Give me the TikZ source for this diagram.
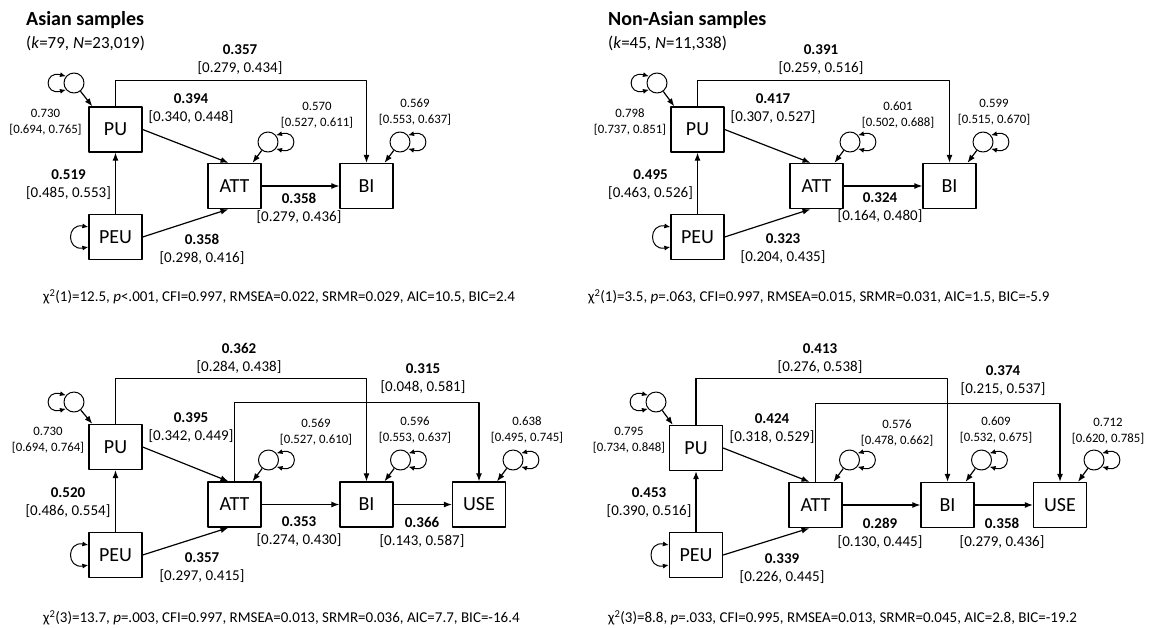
\documentclass[tikz,border=0pt]{standalone}
\usepackage{fontspec}
\setmainfont{Carlito}
\usetikzlibrary{arrows.meta,calc}

\tikzset{
	var/.style={draw, line width=1.3pt, minimum width=53pt, minimum height=45pt, inner sep=0pt, font=\fontsize{20}{22}\selectfont},
	err/.style={draw, circle, line width=1pt, minimum size=20pt, inner sep=0pt},
	arr/.style={line width=1.2pt, -{Latex[length=8pt,width=6pt]}},
	dbl/.style={line width=1pt, {Latex[length=6pt,width=5pt]}-{Latex[length=6pt,width=5pt]}},
	est/.style={align=center, inner sep=0pt, font=\fontsize{15}{18}\selectfont},
	var est/.style={align=center, inner sep=0pt, font=\fontsize{12.8}{16}\selectfont},
	head/.style={anchor=west, inner sep=0pt, font=\fontsize{20}{24}\selectfont\bfseries},
	subhead/.style={anchor=west, inner sep=0pt, font=\fontsize{17}{20}\selectfont},
	fitline/.style={anchor=west, inner sep=0pt, font=\fontsize{15}{18}\selectfont}
}
\newcommand{\coef}[2]{\textbf{#1}\\\relax[#2]}
\newcommand{\vari}[2]{#1\\\relax[#2]}

\begin{document}
\begin{tikzpicture}[x=1pt, y=-1pt, line join=round, >=Latex]
	\useasboundingbox (0,0) rectangle (1153,627);
	
	% Asian samples, three-variable model
	\node[head] (aHead) at (26,20) {Asian samples};
	\node[subhead] (aSub) at (26,43) {(\textit{k}=79, \textit{N}=23,019)};
	\node[var] (aPU) at (115.5,129.5) {PU};
	\node[var] (aPEU) at (115.5,237) {PEU};
	\node[var] (aATT) at (234.5,186) {ATT};
	\node[var] (aBI) at (366.5,186) {BI};
	\draw[arr] (aPEU) -- (aPU);
	\draw[arr] (aPU.east) -- ($(aATT.north)+(-6,0)$);
	\draw[arr] (aPEU.east) -- ($(aATT.south)+(-6,0)$);
	\draw[arr] (aATT) -- (aBI);
	\draw[arr] (aPU.north) -- ++(0,-26) -| (aBI.north);
	\node[err] (aPU-e) at (74,83) {};
	\draw[dbl] (aPU-e.140) .. controls +(-22,-6) and +(-22,6) .. (aPU-e.220);
	\draw[arr] (aPU-e) -- ($(aPU.north west)+(4,0)$);
	\draw[dbl] ($(aPEU.west)+(0,-10)$) .. controls +(-22,-4) and +(-22,4) .. ($(aPEU.west)+(0,10)$);
	\foreach \v in {aATT,aBI}{
		\node[err] (\v-e) at ($(\v)+(33.5,-44)$) {};
		\draw[dbl] (\v-e.40) .. controls +(22,-6) and +(22,6) .. (\v-e.-40);
		\draw[arr] (\v-e) -- ($(\v.north)+(18,0)$);
	}
	\node[var est] (aPU-v) at (45.5,122) {\vari{0.730}{0.694, 0.765}};
	\node[var est] (aATT-v) at (317,115) {\vari{0.570}{0.527, 0.611}};
	\node[var est] (aBI-v) at (415,112.5) {\vari{0.569}{0.553, 0.637}};
	\node[est] (aPU-BI) at (240,60) {\coef{0.357}{0.279, 0.434}};
	\node[est] (aPU-ATT) at (191,109) {\coef{0.394}{0.340, 0.448}};
	\node[est] (aPEU-PU) at (68.5,184.5) {\coef{0.519}{0.485, 0.553}};
	\node[est] (aATT-BI) at (299,208) {\coef{0.358}{0.279, 0.436}};
	\node[est] (aPEU-ATT) at (202,249) {\coef{0.358}{0.298, 0.416}};
	\node[fitline] (aFit) at (43,297) {χ\textsuperscript{2}(1)=12.5, \textit{p}<.001, CFI=0.997, RMSEA=0.022, SRMR=0.029, AIC=10.5, BIC=2.4};
	
	% Non-Asian samples, three-variable model
	\node[head] (bHead) at (608,20) {Non-Asian samples};
	\node[subhead] (bSub) at (608,43) {(\textit{k}=45, \textit{N}=11,338)};
	\node[var] (bPU) at (697.5,129.5) {PU};
	\node[var] (bPEU) at (697.5,237) {PEU};
	\node[var] (bATT) at (816.5,186) {ATT};
	\node[var] (bBI) at (949.5,186) {BI};
	\draw[arr] (bPEU) -- (bPU);
	\draw[arr] (bPU.east) -- ($(bATT.north)+(-6,0)$);
	\draw[arr] (bPEU.east) -- ($(bATT.south)+(-6,0)$);
	\draw[arr] (bATT) -- (bBI);
	\draw[arr] (bPU.north) -- ++(0,-26) -| (bBI.north);
	\node[err] (bPU-e) at (657,83) {};
	\draw[dbl] (bPU-e.140) .. controls +(-22,-6) and +(-22,6) .. (bPU-e.220);
	\draw[arr] (bPU-e) -- ($(bPU.north west)+(4,0)$);
	\draw[dbl] ($(bPEU.west)+(0,-10)$) .. controls +(-22,-4) and +(-22,4) .. ($(bPEU.west)+(0,10)$);
	\foreach \v in {bATT,bBI}{
		\node[err] (\v-e) at ($(\v)+(33.5,-44)$) {};
		\draw[dbl] (\v-e.40) .. controls +(22,-6) and +(22,6) .. (\v-e.-40);
		\draw[arr] (\v-e) -- ($(\v.north)+(18,0)$);
	}
	\node[var est] (bPU-v) at (630,122) {\vari{0.798}{0.737, 0.851}};
	\node[var est] (bATT-v) at (898,115) {\vari{0.601}{0.502, 0.688}};
	\node[var est] (bBI-v) at (994,112.5) {\vari{0.599}{0.515, 0.670}};
	\node[est] (bPU-BI) at (821,60) {\coef{0.391}{0.259, 0.516}};
	\node[est] (bPU-ATT) at (773,109) {\coef{0.417}{0.307, 0.527}};
	\node[est] (bPEU-PU) at (650.5,184.5) {\coef{0.495}{0.463, 0.526}};
	\node[est] (bATT-BI) at (880,208) {\coef{0.324}{0.164, 0.480}};
	\node[est] (bPEU-ATT) at (783,249) {\coef{0.323}{0.204, 0.435}};
	\node[fitline] (bFit) at (588,297) {χ\textsuperscript{2}(1)=3.5, \textit{p}=.063, CFI=0.997, RMSEA=0.015, SRMR=0.031, AIC=1.5, BIC=-5.9};
	
	% Asian samples, model with USE
	\node[var] (cPU) at (115.5,447) {PU};
	\node[var] (cPEU) at (115.5,555) {PEU};
	\node[var] (cATT) at (234.5,504.5) {ATT};
	\node[var] (cBI) at (366.5,504.5) {BI};
	\node[var] (cUSE) at (479,504.5) {USE};
	\draw[arr] (cPEU) -- (cPU);
	\draw[arr] (cPU.east) -- ($(cATT.north)+(-6,0)$);
	\draw[arr] (cPEU.east) -- ($(cATT.south)+(-6,0)$);
	\draw[arr] (cATT) -- (cBI);
	\draw[arr] (cBI) -- (cUSE);
	\draw[arr] (cPU.north) -- ++(0,-45) -| (cBI.north);
	\draw[arr] (cATT.north) -- ++(0,-79) -| (cUSE.north);
	\node[err] (cPU-e) at (74,402) {};
	\draw[dbl] (cPU-e.140) .. controls +(-22,-6) and +(-22,6) .. (cPU-e.220);
	\draw[arr] (cPU-e) -- ($(cPU.north west)+(4,0)$);
	\draw[dbl] ($(cPEU.west)+(0,-10)$) .. controls +(-22,-4) and +(-22,4) .. ($(cPEU.west)+(0,10)$);
	\foreach \v in {cATT,cBI,cUSE}{
		\node[err] (\v-e) at ($(\v)+(34,-44.5)$) {};
		\draw[dbl] (\v-e.40) .. controls +(22,-6) and +(22,6) .. (\v-e.-40);
		\draw[arr] (\v-e) -- ($(\v.north)+(18,0)$);
	}
	\node[var est] (cPU-v) at (48,440) {\vari{0.730}{0.694, 0.764}};
	\node[var est] (cATT-v) at (316,432.5) {\vari{0.569}{0.527, 0.610}};
	\node[var est] (cBI-v) at (415,430) {\vari{0.596}{0.553, 0.637}};
	\node[var est] (cUSE-v) at (527,430) {\vari{0.638}{0.495, 0.745}};
	\node[est] (cPU-BI) at (239,358.5) {\coef{0.362}{0.284, 0.438}};
	\node[est] (cATT-USE) at (423,379) {\coef{0.315}{0.048, 0.581}};
	\node[est] (cPU-ATT) at (191,427.5) {\coef{0.395}{0.342, 0.449}};
	\node[est] (cPEU-PU) at (68,502.5) {\coef{0.520}{0.486, 0.554}};
	\node[est] (cATT-BI) at (299,532) {\coef{0.353}{0.274, 0.430}};
	\node[est] (cBI-USE) at (422,532) {\coef{0.366}{0.143, 0.587}};
	\node[est] (cPEU-ATT) at (202,567.5) {\coef{0.357}{0.297, 0.415}};
	\node[fitline] (cFit) at (43,618) {χ\textsuperscript{2}(3)=13.7, \textit{p}=.003, CFI=0.997, RMSEA=0.013, SRMR=0.036, AIC=7.7, BIC=-16.4};
	
	% Non-Asian samples, model with USE
	\node[var] (dPU) at (696,448) {PU};
	\node[var] (dPEU) at (696,555) {PEU};
	\node[var] (dATT) at (815.5,505) {ATT};
	\node[var] (dBI) at (947.5,505) {BI};
	\node[var] (dUSE) at (1060,505) {USE};
	\draw[arr] (dPEU) -- (dPU);
	\draw[arr] (dPU.east) -- ($(dATT.north)+(-6,0)$);
	\draw[arr] (dPEU.east) -- ($(dATT.south)+(-6,0)$);
	\draw[arr] (dATT) -- (dBI);
	\draw[arr] (dBI) -- (dUSE);
	\draw[arr] (dPU.north) -- ++(0,-46) -| (dBI.north);
	\draw[arr] (dATT.north) -- ++(0,-78.5) -| (dUSE.north);
	\node[err] (dPU-e) at (656,402) {};
	\draw[dbl] (dPU-e.140) .. controls +(-22,-6) and +(-22,6) .. (dPU-e.220);
	\draw[arr] (dPU-e) -- ($(dPU.north west)+(4,0)$);
	\draw[dbl] ($(dPEU.west)+(0,-10)$) .. controls +(-22,-4) and +(-22,4) .. ($(dPEU.west)+(0,10)$);
	\foreach \v in {dATT,dBI,dUSE}{
		\node[err] (\v-e) at ($(\v)+(34,-45)$) {};
		\draw[dbl] (\v-e.40) .. controls +(22,-6) and +(22,6) .. (\v-e.-40);
		\draw[arr] (\v-e) -- ($(\v.north)+(18,0)$);
	}
	\node[var est] (dPU-v) at (629,440) {\vari{0.795}{0.734, 0.848}};
	\node[var est] (dATT-v) at (897,433) {\vari{0.576}{0.478, 0.662}};
	\node[var est] (dBI-v) at (996,430.5) {\vari{0.609}{0.532, 0.675}};
	\node[var est] (dUSE-v) at (1108,431.5) {\vari{0.712}{0.620, 0.785}};
	\node[est] (dPU-BI) at (820,358.5) {\coef{0.413}{0.276, 0.538}};
	\node[est] (dATT-USE) at (1003,380.5) {\coef{0.374}{0.215, 0.537}};
	\node[est] (dPU-ATT) at (772,429) {\coef{0.424}{0.318, 0.529}};
	\node[est] (dPEU-PU) at (649,503) {\coef{0.453}{0.390, 0.516}};
	\node[est] (dATT-BI) at (880,533) {\coef{0.289}{0.130, 0.445}};
	\node[est] (dBI-USE) at (1002,533) {\coef{0.358}{0.279, 0.436}};
	\node[est] (dPEU-ATT) at (782,568.5) {\coef{0.339}{0.226, 0.445}};
	\node[fitline] (dFit) at (608,618) {χ\textsuperscript{2}(3)=8.8, \textit{p}=.033, CFI=0.995, RMSEA=0.013, SRMR=0.045, AIC=2.8, BIC=-19.2};
\end{tikzpicture}
\end{document}
